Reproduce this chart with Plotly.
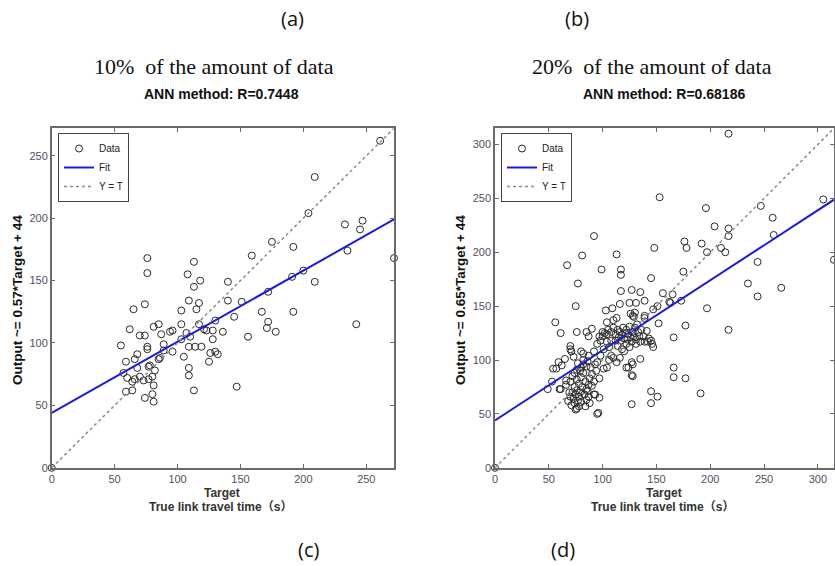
import plotly.graph_objects as go

# ---------------- data: panel (c) 10% data ----------------
left_target = [0, 261, 209, 204, 233, 247, 245, 235, 272, 175, 192, 159, 76, 76, 113, 108, 113, 118, 140,
               191, 200, 209, 172, 109, 117, 115, 140, 151, 74, 65, 103, 167, 192, 172, 171, 178, 145, 242,
               62, 85, 81, 103, 117, 121, 123, 128, 130, 136, 156, 107, 110, 103, 94, 96, 87, 70, 74, 55,
               76, 76, 89, 96, 89, 109, 114, 119, 105, 128, 126, 130, 132, 125, 59, 68, 66, 68, 78, 77, 85,
               86, 109, 109, 57, 60, 82, 80, 77, 70, 64, 66, 73, 81, 64, 59, 74, 80, 81, 113, 147]
left_output = [0, 262, 233, 204, 195, 198, 191, 174, 168, 181, 177, 170, 168, 156, 165, 155, 145, 150, 149,
               153, 158, 149, 141, 134, 132, 127, 134, 133, 131, 127, 126, 125, 125, 117, 112, 109, 121, 115,
               111, 115, 113, 115, 115, 111, 110, 110, 118, 109, 105, 108, 105, 103, 109, 110, 107, 106, 106, 98,
               97, 95, 99, 93, 94, 97, 97, 97, 89, 103, 92, 93, 91, 85, 85, 91, 87, 80, 82, 81, 87,
               88, 80, 74, 76, 72, 78, 73, 71, 73, 69, 71, 70, 66, 62, 61, 56, 59, 53, 62, 65]

# ---------------- data: panel (d) 20% data ----------------
right_target = [0, 217, 153, 305, 196, 247, 258, 217, 217, 259, 204, 92, 192, 176, 178, 148, 210, 214, 197, 315,
                67, 81, 113, 77, 99, 117, 117, 175, 244, 235, 266, 145, 117, 127, 135, 156, 244, 75, 56, 61,
                76, 85, 90, 87, 103, 109, 116, 125, 131, 139, 147, 151, 152, 163, 173, 165, 197, 177, 166, 217,
                166, 166, 177, 191, 145, 145, 151, 127, 127, 128, 135, 122, 145, 147, 139, 139, 130, 129, 104, 110,
                113, 102, 101, 97, 95, 49, 54, 59, 65, 70, 71, 80, 82, 76, 80, 61, 66, 75, 71, 93,
                89, 85, 87, 70, 73, 57, 62, 77, 85, 90, 94, 97, 104, 53, 60, 66, 76, 96, 92, 116,
                127, 124, 128, 126, 128, 139, 134, 142, 146, 131, 162, 104,
                105, 108, 110, 112, 114, 115, 116, 117, 118, 119, 120, 121, 122, 122, 123, 124, 125, 125, 126, 127,
                128, 129, 130, 131, 133, 135, 112, 114, 118, 120, 108, 106, 110, 113, 108, 104, 100, 98, 106, 132,
                136, 138, 141, 143,
                68, 70, 72, 73, 74, 75, 76, 77, 78, 78, 79, 80, 80, 81, 82, 83, 84, 85, 86, 87,
                88, 72, 74, 76, 70, 79, 82, 86, 90, 92, 78, 74, 69, 84, 88,
                82, 87, 92, 95, 97, 100, 93, 98, 95, 101]
right_output = [0, 310, 251, 249, 241, 243, 232, 222, 215, 216, 224, 215, 208, 210, 204, 204, 204, 200, 200, 193,
                188, 197, 198, 171, 184, 184, 179, 182, 191, 171, 167, 176, 164, 165, 163, 162, 159, 150, 135, 125,
                126, 126, 129, 122, 146, 148, 152, 153, 153, 155, 147, 150, 134, 153, 155, 161, 148, 132, 121, 128,
                93, 84, 83, 69, 71, 60, 66, 59, 86, 96, 101, 93, 118, 112, 117, 139, 144, 140, 135, 137,
                139, 125, 92, 65, 50, 73, 92, 98, 101, 113, 108, 108, 106, 91, 93, 73, 81, 54, 58, 68,
                93, 73, 66, 110, 103, 92, 95, 97, 94, 87, 90, 83, 93, 80, 73, 77, 55, 51, 68, 102,
                98, 93, 85, 143, 141, 141, 122, 117, 115, 115, 154, 124,
                128, 126, 130, 124, 128, 121, 126, 118, 123, 130, 120, 125, 115, 128, 119, 124, 112, 131, 121, 117,
                126, 122, 130, 119, 126, 117, 118, 113, 110, 108, 104, 100, 102, 98, 118, 117, 122, 118, 112, 133,
                128, 122, 127, 120,
                62, 66, 70, 64, 75, 68, 72, 62, 78, 66, 70, 84, 61, 75, 88, 68, 80, 63, 71, 77,
                83, 85, 88, 82, 80, 90, 96, 99, 76, 80, 57, 60, 70, 57, 60,
                100, 104, 108, 115, 122, 126, 96, 104, 98, 110]

left_fit = (0.57, 44)
right_fit = (0.65, 44)
left_max = 272
right_max = 315
left_ticks = [0, 50, 100, 150, 200, 250]
right_ticks = [0, 50, 100, 150, 200, 250, 300]

W, H = 835, 566
SANS = "Liberation Sans, Arial, Noto Sans CJK SC"
SERIF = "Liberation Serif, Times New Roman, serif"

fig = go.Figure()


def add_panel(tx, ty, fit, vmax, xa, ya, leg):
    fig.add_trace(go.Scatter(x=tx, y=ty, mode="markers", name="Data", xaxis=xa, yaxis=ya, legend=leg,
                             marker=dict(symbol="circle-open", size=7, color="#2a2a2a", line=dict(width=1)),
                             cliponaxis=False))
    xs = [0, vmax]
    fig.add_trace(go.Scatter(x=xs, y=[fit[0] * v + fit[1] for v in xs], mode="lines", name="Fit",
                             xaxis=xa, yaxis=ya, legend=leg, line=dict(color="#1c1cd6", width=2)))
    fig.add_trace(go.Scatter(x=xs, y=xs, mode="lines", name="Y = T", xaxis=xa, yaxis=ya, legend=leg,
                             line=dict(color="#8a8a8a", width=1.5, dash="3px,3px")))


add_panel(left_target, left_output, left_fit, left_max, "x", "y", "legend")
add_panel(right_target, right_output, right_fit, right_max, "x2", "y2", "legend2")

ydom = [1 - 467.8 / H, 1 - 128.3 / H]
axis_common = dict(showline=True, mirror="ticks", linecolor="#6a6a6a", linewidth=1.5, ticks="inside",
                   ticklen=4, tickwidth=1, tickcolor="#6a6a6a", showgrid=False, zeroline=False,
                   automargin=False, tickfont=dict(family=SANS, size=11, color="#50505e"))

legend_common = dict(bgcolor="white", bordercolor="#444", borderwidth=1,
                     font=dict(family=SANS, size=10, color="#222"),
                     xanchor="left", yanchor="top", tracegroupgap=0, itemwidth=30)

fig.update_layout(
    width=W, height=H, autosize=False, margin=dict(l=0, r=0, t=0, b=0, pad=0, autoexpand=False),
    paper_bgcolor="white", plot_bgcolor="white", showlegend=True,
    xaxis=dict(domain=[51.7 / W, 394 / W], range=[0, left_max], tickvals=left_ticks, anchor="y", **axis_common),
    yaxis=dict(domain=ydom, range=[0, left_max], tickvals=left_ticks, anchor="x", **axis_common),
    xaxis2=dict(domain=[495 / W, 834 / W], range=[0, right_max], tickvals=right_ticks, anchor="y2", **axis_common),
    yaxis2=dict(domain=ydom, range=[0, right_max], tickvals=right_ticks, anchor="x2", **axis_common),
    legend=dict(x=58 / W, y=1 - 133 / H, **legend_common),
    legend2=dict(x=501 / W, y=1 - 133 / H, **legend_common),
)

ann = []


def text(x, y, s, size, family=SANS, bold=False, angle=0, color="#111"):
    ann.append(dict(x=x / W, y=1 - y / H, xref="paper", yref="paper", text=("<b>%s</b>" % s) if bold else s,
                    showarrow=False, xanchor="center", yanchor="middle", textangle=angle,
                    font=dict(family=family, size=size, color=color)))


# panel letters
LET = "Open Sans, Liberation Sans"
text(292, 18, "(a)", 20, family=LET)
text(577, 18, "(b)", 20, family=LET)
text(308, 549, "(c)", 20, family=LET)
text(563, 549, "(d)", 20, family=LET)
# subtitles
text(214, 67, "10%  of the amount of data", 22, family=SERIF)
text(652, 67, "20%  of the amount of data", 22, family=SERIF)
# titles
text(221, 94, "ANN method: R=0.7448", 14, bold=True)
text(664, 94, "ANN method: R=0.68186", 14, bold=True)
# y titles
text(17, 300, "Output ~= 0.57*Target + 44", 13.5, bold=True, angle=-90)
text(460, 300, "Output ~= 0.65*Target + 44", 13.5, bold=True, angle=-90)
# x titles
text(222, 493, "Target", 12, bold=True, color="#333")
text(220, 507, "True link travel time（s）", 12, bold=True, color="#333")
text(664, 493, "Target", 12, bold=True, color="#333")
text(662, 507, "True link travel time（s）", 12, bold=True, color="#333")

fig.update_layout(annotations=ann)
fig.write_html("out.html", config={"displayModeBar": False},
               post_script="document.body.style.margin='0';document.body.style.padding='0';")
